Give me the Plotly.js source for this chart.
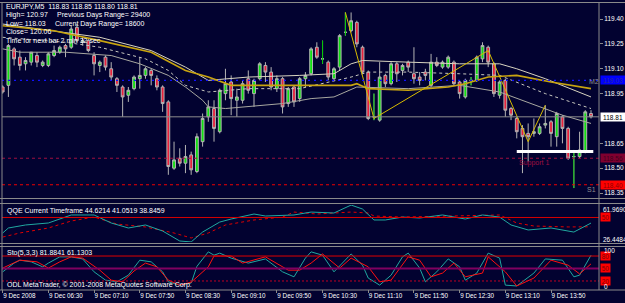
<!DOCTYPE html>
<html><head><meta charset="utf-8">
<script src="https://cdn.plot.ly/plotly-3.0.1.min.js"></script>
<style>html,body{margin:0;padding:0;background:#020230;}#chart{width:625px;height:303px;}</style>
</head><body><div id="chart"></div>
<script>
// ---------------- DATA ----------------
const tickBars   = [0,8,16,24,32,40,48,56,64,72,80,88,96];
const tickLabels = ['9 Dec 2008','9 Dec 06:30','9 Dec 07:10','9 Dec 07:50','9 Dec 08:30','9 Dec 09:10','9 Dec 09:50','9 Dec 10:30','9 Dec 11:10','9 Dec 11:50','9 Dec 12:30','9 Dec 13:10','9 Dec 13:50'];
const priceTicks = [119.40,119.25,119.10,118.95,118.65,118.50,118.35];

const opens = [118.99,119.00,119.22,119.17,119.13,119.14,119.18,119.12,119.12,119.18,
119.20,119.24,119.23,119.35,119.26,119.27,119.18,119.12,119.17,119.10,
119.04,118.99,118.94,118.98,119.04,119.06,119.09,119.04,118.99,118.90,
118.50,118.56,118.53,118.58,118.48,118.66,118.81,118.86,118.72,118.95,
119.02,118.91,118.91,119.04,118.95,119.04,119.12,119.08,118.98,119.04,
118.89,118.99,118.92,119.04,119.07,119.23,119.16,119.14,119.04,119.11,
119.32,119.33,119.38,119.23,119.08,118.81,118.79,119.06,119.01,119.13,
119.09,119.14,119.07,119.05,119.08,119.00,119.14,119.11,119.11,119.14,
119.02,118.93,119.03,119.03,119.16,119.23,119.13,118.94,119.03,118.86,
118.80,118.74,118.71,118.71,118.71,118.76,118.78,118.69,118.81,118.74,
118.57,118.57,118.60,118.83];
const highs = [119.00,119.25,119.23,119.21,119.17,119.20,119.20,119.15,119.20,119.24,
119.24,119.25,119.36,119.37,119.29,119.28,119.20,119.15,119.18,119.14,
119.05,119.00,118.99,119.06,119.17,119.11,119.10,119.06,119.00,118.91,
118.66,118.62,118.64,118.60,118.71,118.83,118.91,118.91,118.98,119.10,
119.06,118.98,119.03,119.09,119.04,119.14,119.14,119.11,119.06,119.05,
118.99,119.00,119.05,119.08,119.23,119.26,119.27,119.15,119.11,119.31,
119.44,119.44,119.39,119.24,119.09,118.95,119.14,119.07,119.14,119.14,
119.13,119.15,119.23,119.08,119.10,119.19,119.17,119.15,119.18,119.15,
119.03,119.04,119.05,119.18,119.26,119.24,119.14,119.03,119.04,118.87,
118.81,118.76,118.77,118.80,118.77,118.88,118.79,118.84,118.82,118.75,
118.61,118.72,118.85,118.85];
const lows = [118.95,118.93,119.12,119.09,119.09,119.12,119.11,119.11,119.11,119.17,
119.19,119.17,119.22,119.26,119.24,119.20,119.06,119.08,119.09,119.03,
118.96,118.81,118.90,118.97,118.98,119.04,119.00,118.97,118.84,118.46,
118.49,118.51,118.47,118.46,118.47,118.63,118.78,118.66,118.71,118.91,
118.82,118.81,118.89,118.95,118.87,119.03,119.02,118.97,118.96,118.83,
118.87,118.87,118.90,118.99,119.06,119.16,119.13,119.03,119.03,119.09,
119.30,119.32,119.23,119.07,118.79,118.79,118.78,118.99,119.00,119.02,
119.06,119.08,119.01,119.00,119.03,118.99,119.11,119.10,119.10,119.00,
118.92,118.92,119.00,119.02,119.14,119.11,118.93,118.92,118.81,118.79,
118.68,118.47,118.54,118.69,118.70,118.74,118.63,118.63,118.65,118.55,
118.38,118.56,118.59,118.80];
const closes = [118.96,119.24,119.16,119.12,119.15,119.20,119.14,119.14,119.19,119.21,
119.23,119.22,119.34,119.27,119.27,119.21,119.13,119.14,119.11,119.05,
119.00,118.93,118.97,119.05,119.06,119.10,119.06,118.99,118.89,118.51,
118.55,118.53,118.57,118.49,118.69,118.80,118.87,118.74,118.97,119.01,
118.92,118.93,119.01,118.97,119.03,119.13,119.08,118.99,119.04,118.87,
118.98,118.90,119.04,119.06,119.22,119.17,119.16,119.05,119.10,119.30,
119.32,119.39,119.25,119.08,118.80,118.81,119.05,119.01,119.13,119.07,
119.12,119.11,119.04,119.03,119.06,119.14,119.12,119.14,119.17,119.01,
118.95,119.03,119.03,119.17,119.24,119.14,118.95,119.02,118.85,118.82,
118.72,118.69,118.69,118.72,118.75,118.77,118.71,118.83,118.74,118.56,
118.57,118.61,118.84,118.81];

// moving averages (read at sampled bars)
const maUpperX = [0,9,17,26,32,36,43,52,58,61,63,71,80,87,90,95,103];
const maUpperY = [119.37,119.33,119.29,119.21,119.11,119.03,119.05,119.06,119.07,119.13,119.15,119.14,119.13,119.13,119.10,119.04,118.93];
const maGoldX  = [0,9,17,26,32,36,40,61,62,64,71,78,81,85,90,96,103];
const maGoldY  = [119.36,119.33,119.27,119.20,119.09,119.05,119.00,119.00,119.01,118.98,118.97,118.99,119.01,119.05,119.06,119.02,118.98];
const maDashX  = [0,11,17,25,29,32,36,43,52,61,64,71,80,87,95,103];
const maDashY  = [119.29,119.26,119.23,119.16,119.09,119.00,118.96,118.98,118.98,119.05,119.08,119.08,119.07,119.06,118.95,118.86];
const maLowX   = [0,3,11,19,24,29,32,35,36,39,49,54,58,62,71,80,87,94,98,103];
const maLowY   = [119.22,119.20,119.20,119.18,119.13,119.06,118.99,118.91,118.87,118.86,118.89,118.92,118.93,118.99,118.98,119.00,118.96,118.87,118.82,118.77];
const zigzagX  = [60,65,85,92,95];
const zigzagY  = [119.44,118.80,119.21,118.66,118.88];

// horizontal levels
const pivotM2 = 119.03;
const support1 = 118.56;
const s1 = 118.40;
const zoneX = [90,103.4];
const zoneY = [118.60,118.60];

// QQE
const qqeRange = [26.4484, 61.9690];
const qqeLevel = 50;
const qqeFastX = [0,1,4,8,12,16,19,22,25,28,31,33,35,38,40,44,46,49,51,54,58,61,63,65,67,70,73,77,81,84,87,89,92,96,100,103];
const qqeFastY = [35.1,39.9,42.8,44.7,52.4,52.4,44.7,39.9,42.8,37.0,27.4,26.5,36.0,45.6,48.5,53.3,51.4,52.4,52.4,55.2,54.3,61.9,58.1,47.6,47.6,50.4,49.5,52.4,48.5,52.4,50.4,42.8,38.0,39.9,36.0,44.62];
const qqeSlowX = [0,3,8,12,16,20,25,30,33,36,39,44,49,51,55,61,64,65,70,77,80,87,90,93,99,103];
const qqeSlowY = [31.2,35.1,39.9,46.6,50.4,43.7,40.9,35.1,30.3,35.1,42.8,47.6,50.4,55.2,53.3,55.2,54.3,51.4,50.4,51.4,51.4,52.4,44.7,41.8,40.9,41.05];

// Stochastic
const stoRange = [0,100];
const stoLevels = [80,50,20];
const stoMainX = [0,2,3,5,7,8,10,12,14,16,18,20,22,24,26,28,29,31,33,34,36,37,38,40,43,46,49,51,53,54,56,58,61,63,64,66,68,70,71,73,74,76,78,80,81,83,85,87,88,90,93,95,98,100,101,103];
const stoMainY = [42,63,70,66,54,63,78,78,73,42,22,18,34,70,66,42,18,10,15,55,90,82,87,75,63,73,42,30,75,90,82,42,85,58,27,10,34,78,87,51,18,42,73,54,22,39,87,75,10,8,39,73,70,30,34,81.88];
const stoSigX  = [0,3,6,8,10,12,14,17,19,21,23,25,27,29,31,33,36,37,40,42,46,50,52,54,56,59,61,64,66,68,71,73,75,77,79,81,84,85,88,90,93,96,99,101,103];
const stoSigY  = [51,70,66,51,66,78,75,46,22,18,44,63,54,22,10,17,54,80,80,63,78,46,46,63,85,51,75,54,18,22,78,70,30,39,63,30,39,78,42,8,27,70,58,37,61.13];

// texts
const infoLines = ['EURJPY,M5  118.83 118.85 118.80 118.81','High= 120.97','Low= 118.03','Close= 120.06','Time for next bar 2 min 32 sec'];
const infoRight = ['Previous Days Range= 29400','Current Days Range= 18600'];
const qqeTitle = 'QQE Current Timeframe 44.6214 41.0519 38.8459';
const stoTitle = 'Sto(5,3,3) 81.8841 61.1303';
const copyright = 'ODL MetaTrader, \u00a9 2001-2008 MetaQuotes Software Corp.';

// ---------------- STYLE / LAYOUT ----------------
const W=625,H=303,ML=2,MR=26,MT=3,MB=13;
const PW=W-ML-MR, PH=H-MT-MB;
const px = x => (x-ML)/PW;
const py = y => (H-MB-y)/PH;
const BG='#020230', FONT='Liberation Sans, Arial, sans-serif';
const FRAME='#8a8a8a';

const idx = opens.map((_,i)=>i);
const traces = [];
traces.push({type:'candlestick', x:idx, open:opens, high:highs, low:lows, close:closes,
  xaxis:'x', yaxis:'y', whiskerwidth:0, hoverinfo:'skip',
  increasing:{line:{color:'#b4b4b4',width:1}, fillcolor:'#10e010'},
  decreasing:{line:{color:'#b4b4b4',width:1}, fillcolor:'#e8203c'}});
// doji bars drawn in line colour
const dx=[],dy=[];
idx.forEach(i=>{ if(opens[i]===closes[i]){dx.push(i,i,null);dy.push(lows[i],highs[i],null);} });
traces.push({type:'scatter',mode:'lines',x:dx,y:dy,line:{color:'#00c800',width:1},hoverinfo:'skip'});

const ln=(x,y,color,width,dash,ax)=>({type:'scatter',mode:'lines',x:x,y:y,yaxis:ax||'y',line:{color:color,width:width,dash:dash||'solid'},hoverinfo:'skip'});
traces.push(ln(maLowX,maLowY,'#a8a8a0',1));
traces.push(ln(maDashX,maDashY,'#c8c8c0',1,'3px,3px'));
traces.push(ln(maUpperX,maUpperY,'#d8d4c0',1));
traces.push(ln(maGoldX,maGoldY,'#c8a410',1.6));
traces.push(ln(zigzagX,zigzagY,'#d8bc00',1));
traces.push(ln(zoneX,zoneY,'#ffffff',3));

traces.push(ln(qqeSlowX,qqeSlowY,'#e00000',1,'dot','y2'));
traces.push(ln(qqeFastX,qqeFastY,'#20a8a0',1,'solid','y2'));
traces.push(ln(stoMainX,stoMainY,'#20a8a0',1,'solid','y3'));
traces.push(ln(stoSigX,stoSigY,'#ff1010',1,'solid','y3'));

const shapes=[];
const hl=(yref,y,color,width,dash)=>({type:'line',xref:'paper',x0:0,x1:1,yref:yref,y0:y,y1:y,line:{color:color,width:width,dash:dash||'solid'},layer:'above'});
shapes.push(hl('y',pivotM2,'#1010ff',1.2,'2px,4px'));
shapes.push(hl('y',closes[closes.length-1],'#8c8c8c',1));
shapes.push(hl('y',support1,'#a01040',1,'3px,3px'));
shapes.push(hl('y',s1,'#ee0000',1,'3px,3px'));
shapes.push(hl('y2',qqeLevel,'#d80000',1));
shapes.push(hl('y3',stoLevels[0],'#e00000',1));
shapes.push(hl('y3',stoLevels[1],'#800060',2));
shapes.push(hl('y3',stoLevels[2],'#c00020',1,'2px,2px'));
// frames
[2.5,198.5,203.5,243.5,246.5,290].forEach(y=>shapes.push({type:'line',xref:'paper',yref:'paper',x0:px(0),x1:px(W),y0:py(y),y1:py(y),line:{color:FRAME,width:1},layer:'above'}));
[2,599].forEach(x=>shapes.push({type:'line',xref:'paper',yref:'paper',x0:px(x),x1:px(x),y0:py(2.5),y1:py(290),line:{color:FRAME,width:1},layer:'above'}));

const ann=[];
const txt=(x,y,t,color,size)=>({xref:'paper',yref:'paper',x:px(x),y:py(y),xanchor:'left',yanchor:'middle',text:t,showarrow:false,font:{family:FONT,size:size||7,color:color||'#ffffff'}});
const infoY=[7,15.5,24,32,40];
infoLines.forEach((t,i)=>ann.push(txt(4,infoY[i],t)));
ann.push(txt(55,infoY[1],infoRight[0]));
ann.push(txt(53,infoY[2],infoRight[1]));
ann.push(txt(5,211,qqeTitle));
ann.push(txt(5,253,stoTitle));
ann.push(txt(5,285,copyright));
ann.push(txt(517,163,'Support 1','#a01040'));
ann.push(txt(585,189,'S1','#8c8c8c'));
ann.push(txt(587,82,'M2','#8c8c8c'));

const box=(yref,y,t,bg,fc,w)=>({xref:'paper',x:1,xanchor:'left',xshift:1,yref:yref,y:y,yanchor:'middle',text:t,showarrow:false,bgcolor:bg,borderpad:0,width:w||24,height:8,align:'center',font:{family:FONT,size:6.5,color:fc}});
ann.push(box('y',pivotM2,pivotM2.toFixed(2),'#0000ff','#2a2aa0'));
ann.push(box('y',closes[closes.length-1],closes[closes.length-1].toFixed(2),'#ffffff','#000000'));
ann.push(box('y',support1,support1.toFixed(2),'#800030','#40001c'));
ann.push(box('y',s1,s1.toFixed(2),'#ff0000','#900000'));
ann.push(box('y2',qqeLevel,String(qqeLevel),'#ff0000','#800000',9));
stoLevels.forEach(v=>ann.push(box('y3',v,String(v),'#ff0000','#800000',9)));
ann.push(txt(600.5,209,qqeRange[1].toFixed(4),'#ffffff',6.5));
ann.push(txt(600.5,239,qqeRange[0].toFixed(4),'#ffffff',6.5));
ann.push(txt(602,250,String(stoRange[1]),'#ffffff',6.5));
ann.push(txt(602,286,String(stoRange[0]),'#ffffff',6.5));

const layout={
  width:W,height:H,margin:{l:ML,r:MR,t:MT,b:MB,pad:0},
  paper_bgcolor:BG,plot_bgcolor:BG,showlegend:false,boxgap:0.3,
  font:{family:FONT,size:7,color:'#ffffff'},
  xaxis:{range:[-0.12,104.4],tickvals:tickBars,ticktext:tickLabels,ticks:'outside',ticklen:3,tickcolor:FRAME,
    tickfont:{family:FONT,size:6.3,color:'#ffffff'},ticklabelposition:'outside right',showgrid:false,zeroline:false,showline:false,
    anchor:'y3',rangeslider:{visible:false},fixedrange:true},
  yaxis:{domain:[py(198),1],range:[118.320,119.497],side:'right',anchor:'x',tickvals:priceTicks,ticktext:priceTicks.map(v=>v.toFixed(2)),
    ticks:'outside',ticklen:3,tickcolor:FRAME,tickfont:{family:FONT,size:6.5,color:'#ffffff'},showgrid:false,zeroline:false,showline:false},
  yaxis2:{domain:[py(242),py(205)],range:qqeRange,anchor:'x',side:'right',showticklabels:false,ticks:'',showgrid:false,zeroline:false,showline:false},
  yaxis3:{domain:[py(289.3),py(247.7)],range:stoRange,anchor:'x',side:'right',showticklabels:false,ticks:'',showgrid:false,zeroline:false,showline:false},
  shapes:shapes,annotations:ann
};
Plotly.newPlot('chart',traces,layout,{staticPlot:true,displayModeBar:false});
</script></body></html>
